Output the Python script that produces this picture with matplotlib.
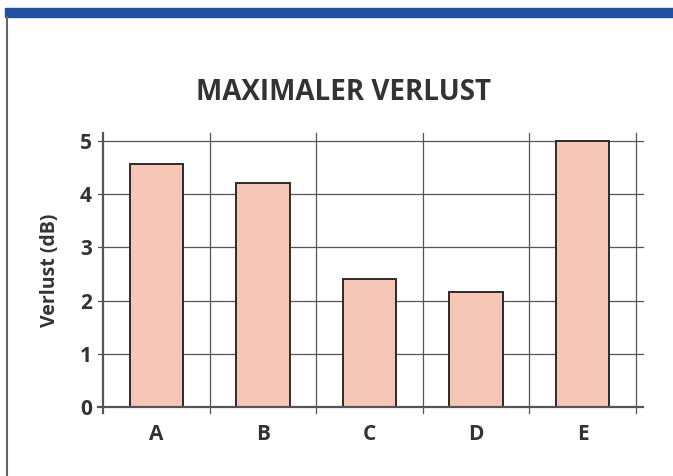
import matplotlib.pyplot as plt
from matplotlib.patches import Rectangle
from matplotlib.lines import Line2D

# datos
kategorien = ["A", "B", "C", "D", "E"]
verlust = [4.57, 4.21, 2.41, 2.16, 5.0]
yticks = [0, 1, 2, 3, 4, 5]

textfarbe = "#333333"
plt.rcParams['font.family'] = ['Open Sans', 'DejaVu Sans']

fig = plt.figure(figsize=(6.73, 4.76), dpi=100)
ax = fig.add_axes([103/673, 1-407/476, (636-103)/673, (407-133)/476])

pos = [i + 0.5 for i in range(len(kategorien))]
ax.bar(pos, verlust, width=0.5, color="#f6c7b6", edgecolor="#2b2b2b", linewidth=1.4, zorder=3)

ax.set_xlim(0, len(kategorien))
ax.set_ylim(0, 5.15)

# rejilla con pequenas prolongaciones fuera de los ejes
for y in yticks:
    ax.plot([-0.05, len(kategorien) + 0.065], [y, y], color="#555555",
            lw=1.6 if y == 0 else 0.9, clip_on=False, zorder=2 if y else 4)
for x in range(len(kategorien) + 1):
    ax.plot([x, x], [-0.11, 5.15], color="#555555",
            lw=1.6 if x == 0 else 0.9, clip_on=False, zorder=2)

for s in ax.spines.values():
    s.set_visible(False)
ax.set_xticks(pos)
ax.set_xticklabels(kategorien)
ax.set_yticks(yticks)
ax.tick_params(length=0, labelsize=15, colors=textfarbe, pad=8)
ax.tick_params(axis="x", pad=12)
for lab in ax.get_xticklabels() + ax.get_yticklabels():
    lab.set_fontweight("bold")
ax.set_ylabel("Verlust (dB)", fontsize=14, fontweight="bold", color=textfarbe, labelpad=14)

fig.text(343/673, 1-92/476, "MAXIMALER VERLUST", ha="center", va="center",
         fontsize=20, fontweight="bold", color=textfarbe)

# marco: banda azul arriba y linea gris a la izquierda
fig.patches.append(Rectangle((5/673, 1-17/476), 1, 9/476, transform=fig.transFigure,
                             color="#2250a0", zorder=0))
fig.lines.append(Line2D([7/673, 7/673], [0, 1-17/476], transform=fig.transFigure,
                        color="#666666", lw=1.5))

plt.savefig("out.png", dpi=100)
